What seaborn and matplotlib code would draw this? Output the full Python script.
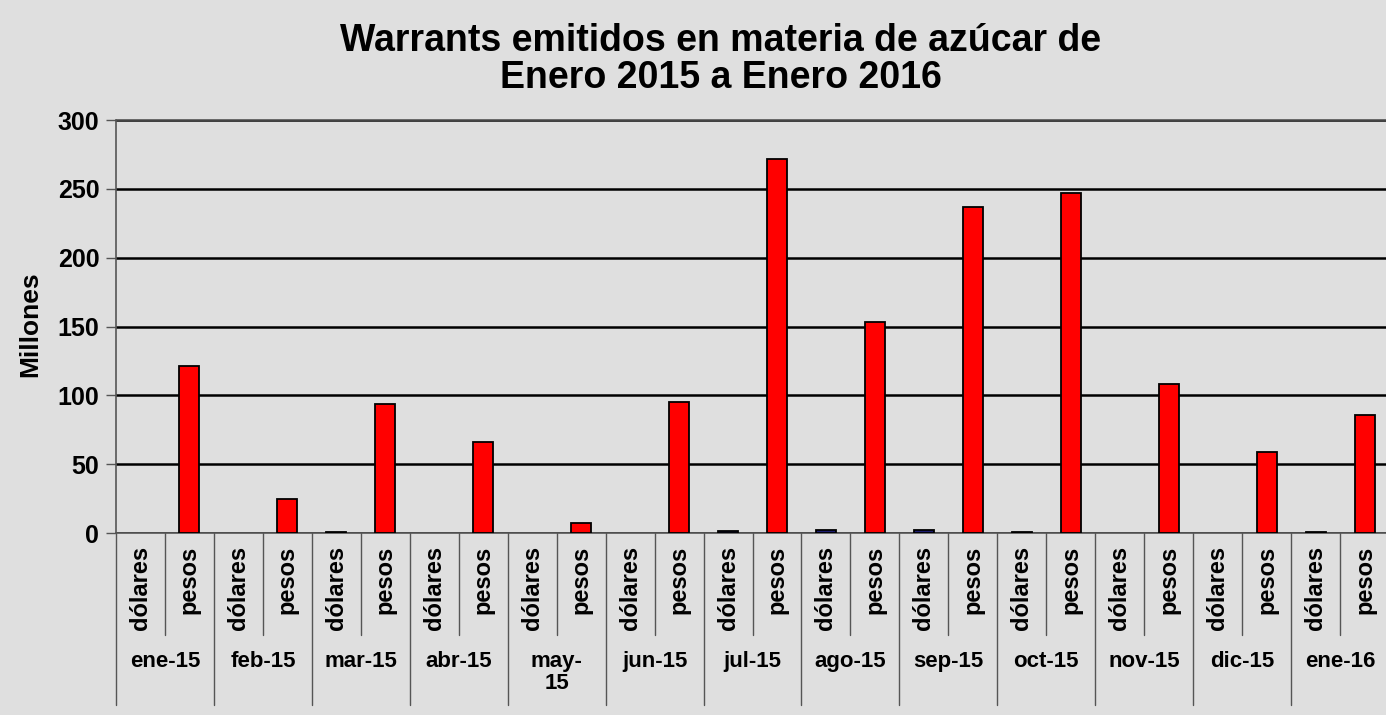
import matplotlib
matplotlib.use('Agg')
import matplotlib.pyplot as plt
import matplotlib.transforms as mtransforms
import pandas as pd
import seaborn as sns

# data (millones)
months = ['ene-15', 'feb-15', 'mar-15', 'abr-15', 'may-\n15', 'jun-15', 'jul-15',
          'ago-15', 'sep-15', 'oct-15', 'nov-15', 'dic-15', 'ene-16']
tipos = ['dólares', 'pesos']
dolares = [0, 0, 1, 0, 0, 0, 1.5, 2, 2, 1, 0, 0, 1]
pesos = [121, 25, 94, 66, 7, 95, 272, 153, 237, 247, 108, 59, 86]

rows = []
for m, d, p in zip(months, dolares, pesos):
    rows.append({'slot': m + '|dólares', 'tipo': 'dólares', 'valor': d})
    rows.append({'slot': m + '|pesos', 'tipo': 'pesos', 'valor': p})
df = pd.DataFrame(rows)
order = list(df['slot'])

sns.set_theme(style='white')
plt.rcParams['font.family'] = ['Liberation Sans', 'DejaVu Sans']
plt.rcParams['text.color'] = 'black'
plt.rcParams['xtick.color'] = 'black'
plt.rcParams['ytick.color'] = 'black'
bg = '#dfdfdf'

fig = plt.figure(figsize=(13.86, 7.15), dpi=100, facecolor=bg)
ax = fig.add_axes([0.0837, 0.2545, 0.9185, 0.5776], facecolor=bg)

sns.barplot(data=df, x='slot', y='valor', hue='tipo', order=order, dodge=False,
            palette={'dólares': '#1c1c70', 'pesos': '#ff0000'}, width=0.41,
            saturation=1, edgecolor='black', linewidth=1.3, legend=False,
            ax=ax, zorder=3)
# empty months show no bar outline
for p in ax.patches:
    if p.get_height() == 0:
        p.set_visible(False)

ax.set_xlim(-0.5, len(order) - 0.5)
ax.set_ylim(0, 300)
ax.set_yticks(range(0, 301, 50))
ax.set_yticklabels([str(v) for v in range(0, 301, 50)], fontsize=18, fontweight='bold')
ax.yaxis.grid(True, color='black', linewidth=1.8, zorder=1)
ax.set_axisbelow(True)
ax.tick_params(axis='y', length=7, width=1, color='#555555', pad=5, left=True)

ax.set_xticks(range(len(order)))
ax.set_xticklabels([s.split('|')[1] for s in order], rotation=90, fontsize=17,
                   fontweight='bold', va='top')
ax.tick_params(axis='x', length=0, pad=9)
ax.set_xlabel('')
ax.set_ylabel('')

for side in ['top', 'right']:
    ax.spines[side].set_visible(False)
ax.spines['left'].set_color('#555555')
ax.spines['bottom'].set_color('#555555')
ax.spines['left'].set_linewidth(1.2)
ax.spines['bottom'].set_linewidth(1.2)
ax.axhline(300, color='#444444', linewidth=1.8, clip_on=False, zorder=2)

# category separators and month labels under the axis
trans = mtransforms.blended_transform_factory(ax.transData, ax.transAxes)
for i in range(len(order) + 1):
    x = i - 0.5
    y1 = -0.416 if i % 2 == 0 else -0.247
    ax.plot([x, x], [0, y1], transform=trans, clip_on=False, color='#555555', lw=1)
for j, m in enumerate(months):
    ax.text(2 * j + 0.5, -0.285, m, transform=trans, ha='center', va='top',
            fontsize=16, fontweight='bold', linespacing=1.1)

fig.text(0.022, 0.547, 'Millones', rotation=90,
         ha='center', va='center', fontsize=19, fontweight='bold')
fig.text(0.52, 0.917, 'Warrants emitidos en materia de azúcar de\nEnero 2015 a Enero 2016',
         ha='center', va='center', fontsize=27, fontweight='bold', linespacing=1.02)

fig.savefig('out.png', dpi=100, facecolor=bg)
